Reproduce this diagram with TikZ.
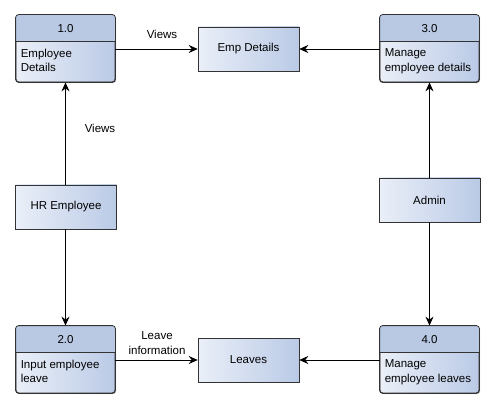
\documentclass[tikz,border=0pt]{standalone}
\usepackage{fontspec}
\setmainfont{Liberation Sans}
\usetikzlibrary{shadows,arrows.meta}
\definecolor{hdr}{RGB}{185,201,228}
\definecolor{gl}{RGB}{234,239,248}
\definecolor{gr}{RGB}{186,202,230}
\tikzset{
  every node/.style={font=\fontsize{11.5}{14.5}\selectfont},
  proc/.style={draw=black!80, line width=0.8pt, rounded corners=3pt, minimum width=99pt, minimum height=67pt, inner sep=0pt, left color=gl, right color=gr, drop shadow={shadow xshift=1.2pt, shadow yshift=-1.2pt, opacity=0.35}},
  store/.style={draw=black!80, line width=0.6pt, minimum width=101pt, minimum height=44pt, inner sep=0pt, left color=gl, right color=gr},
  flow/.style={-{Stealth[length=9pt,width=8pt,inset=3pt]}, line width=0.8pt},
  lbl/.style={align=center, inner sep=1pt},
  body/.style={align=left, anchor=north west, inner sep=0pt},
}
\newcommand{\prochdr}[1]{%
  \fill[hdr] ([yshift=-27pt]#1.north west) [rounded corners=3pt] -- (#1.north west) -- (#1.north east) [sharp corners] -- ([yshift=-27pt]#1.north east) -- cycle;
  \draw[black!80, line width=0.8pt] ([yshift=-27pt]#1.north west) -- ([yshift=-27pt]#1.north east);
  \draw[black!80, line width=0.8pt, rounded corners=3pt] (#1.north west) rectangle (#1.south east);
}
\begin{document}
\begin{tikzpicture}[x=1pt,y=-1pt]
\useasboundingbox (0,0) rectangle (496,409);
% processes
\node[proc] (p1) at (65.5,48.5) {};
\node[proc] (p3) at (429.5,48.5) {};
\node[proc] (p2) at (65.5,359.5) {};
\node[proc] (p4) at (429.5,359.5) {};
\prochdr{p1}\prochdr{p3}\prochdr{p2}\prochdr{p4}
\node (n1) at ([yshift=-13.5pt]p1.north) {1.0};
\node (n3) at ([yshift=-13.5pt]p3.north) {3.0};
\node (n2) at ([yshift=-13.5pt]p2.north) {2.0};
\node (n4) at ([yshift=-13.5pt]p4.north) {4.0};
\node[body] (t1) at ([xshift=5pt,yshift=-34pt]p1.north west) {Employee\\Details};
\node[body] (t3) at ([xshift=5pt,yshift=-34pt]p3.north west) {Manage\\employee details};
\node[body] (t2) at ([xshift=5pt,yshift=-34pt]p2.north west) {Input employee\\leave};
\node[body] (t4) at ([xshift=5pt,yshift=-34pt]p4.north west) {Manage\\employee leaves};
% stores / entities
\node[store] (emp) at (248.5,49) {Emp Details};
\node[store] (lv) at (248.5,360) {Leaves};
\node[store] (hr) at (66,207) {HR Employee};
\node[store] (ad) at (429.5,200) {Admin};
% flows
\draw[flow] (p1.east |- emp.west) -- (emp.west);
\draw[flow] (p3.west |- emp.east) -- (emp.east);
\draw[flow] (p2.east |- lv.west) -- (lv.west);
\draw[flow] (p4.west |- lv.east) -- (lv.east);
\draw[flow] (hr.north -| p1.south) -- (p1.south);
\draw[flow] (hr.south -| p2.north) -- (p2.north);
\draw[flow] (ad.north) -- (p3.south);
\draw[flow] (ad.south) -- (p4.north);
% labels
\node[lbl] (l1) at (162,34) {Views};
\node[lbl] (l2) at (100,128) {Views};
\node[lbl] (l3) at (157,343) {Leave\\information};
\end{tikzpicture}
\end{document}
